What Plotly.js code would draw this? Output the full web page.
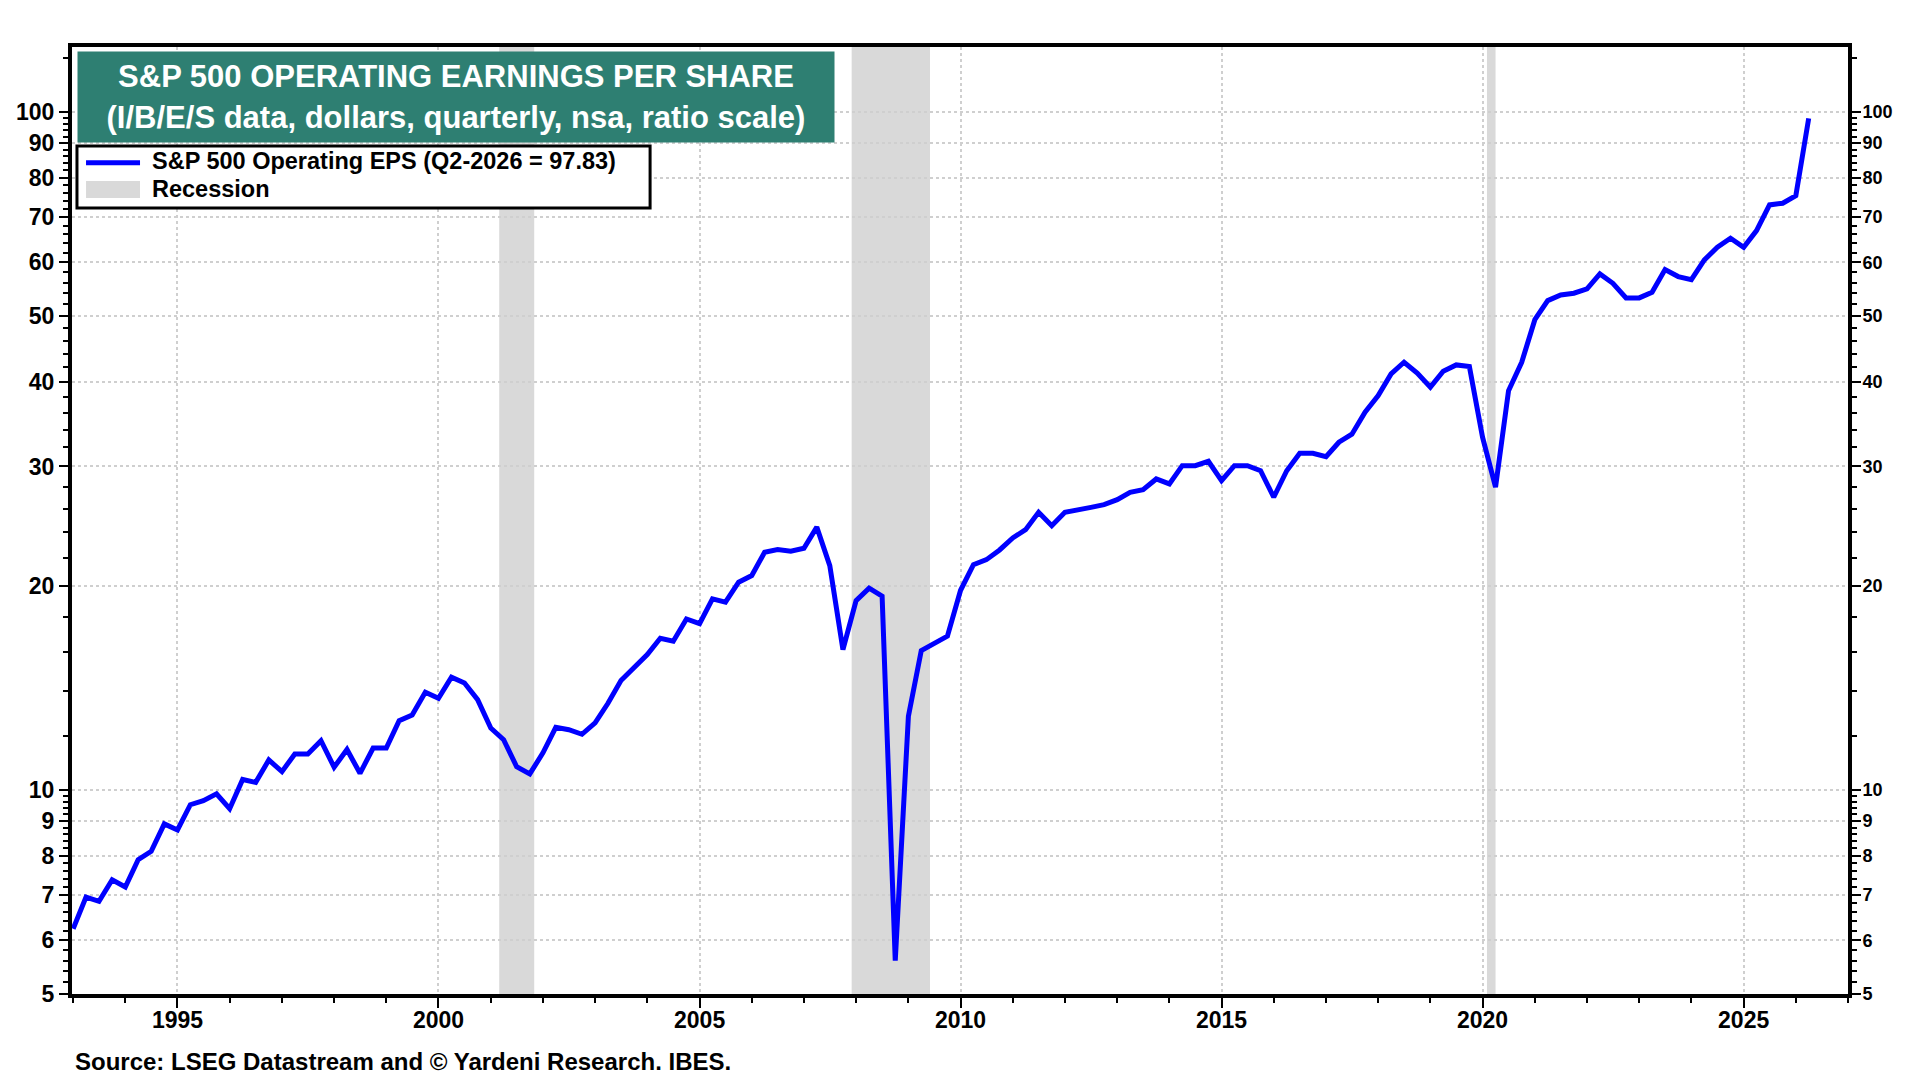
<!DOCTYPE html>
<html>
<head>
<meta charset="utf-8">
<script src="https://cdn.plot.ly/plotly-3.0.1.min.js"></script>
<style>
  html, body { margin: 0; padding: 0; background: #fff; }
  #chart { width: 1920px; height: 1080px; }
</style>
</head>
<body>
<div id="chart"></div>
<script>
// S&P 500 operating EPS, quarterly, Q1-1993 .. Q2-2026
const startYear = 1993;
const eps = [
    6.24, 6.95, 6.85, 7.37,      // 1993
    7.19, 7.89, 8.12, 8.91,      // 1994
    8.73, 9.51, 9.64, 9.87,      // 1995
    9.38, 10.36, 10.26, 11.07,   // 1996
    10.64, 11.30, 11.30, 11.82,  // 1997
    10.80, 11.47, 10.58, 11.53,  // 1998
    11.53, 12.65, 12.90, 13.93,  // 1999
    13.65, 14.66, 14.38, 13.59,  // 2000
    12.34, 11.86, 10.82, 10.56,  // 2001
    11.34, 12.37, 12.27, 12.08,  // 2002
    12.56, 13.42, 14.50, 15.17,  // 2003
    15.84, 16.74, 16.57, 17.87,  // 2004
    17.59, 19.13, 18.92, 20.25,  // 2005
    20.71, 22.42, 22.62, 22.49,  // 2006
    22.72, 24.41, 21.42, 16.10,  // 2007
    19.02, 19.84, 19.31, 5.60,   // 2008
    12.84, 16.05, 16.46, 16.86,  // 2009
    19.70, 21.49, 21.86, 22.59,  // 2010
    23.53, 24.20, 25.67, 24.53,  // 2011
    25.67, 25.85, 26.11, 26.35,  // 2012
    26.80, 27.48, 27.72, 28.75,  // 2013
    28.27, 30.08, 30.08, 30.53,  // 2014
    28.58, 30.08, 30.08, 29.57,  // 2015
    27.02, 29.57, 31.37, 31.37,  // 2016
    31.01, 32.57, 33.47, 36.07,  // 2017
    38.16, 41.08, 42.74, 41.21,  // 2018
    39.27, 41.45, 42.35, 42.11,  // 2019
    33.13, 27.96, 38.81, 42.74,  // 2020
    49.39, 52.69, 53.72, 54.03,  // 2021
    54.82, 57.69, 55.89, 53.18,  // 2022
    53.18, 54.22, 58.54, 57.17,  // 2023
    56.58, 60.50, 63.16, 65.12,  // 2024
    63.16, 66.83, 72.92, 73.34,  // 2025
    75.25, 97.83                 // 2026
];

// recessions (NBER peak month -> trough month)
const recessionStart = ['2001-03-01', '2007-12-01', '2020-02-01'];
const recessionEnd = ['2001-11-01', '2009-06-01', '2020-04-01'];

const yTickVals = [5, 6, 7, 8, 9, 10, 20, 30, 40, 50, 60, 70, 80, 90, 100];
const xTickYears = [1995, 2000, 2005, 2010, 2015, 2020, 2025];

const seriesName = 'S&P 500 Operating EPS (Q2-2026 = 97.83)';
const titleText = 'S&P 500 OPERATING EARNINGS PER SHARE<br>(I/B/E/S data, dollars, quarterly, nsa, ratio scale)';
const sourceText = 'Source: LSEG Datastream and © Yardeni Research. IBES.';

const FONT = 'Liberation Sans, Arial, sans-serif';

// quarter -> first day of quarter
const quarterDates = eps.map((_, i) =>
    (startYear + Math.floor(i / 4)) + '-' + String(1 + 3 * (i % 4)).padStart(2, '0') + '-01');

// minor ticks on the ratio scale
const minorY = [];
for (let v = 5.2; v < 10; v += 0.2) minorY.push(+v.toFixed(1));
for (let v = 12; v < 100; v += 2) if (v % 10 !== 0) minorY.push(v);
minorY.push(120);

const yRange = [Math.log10(5), 2.0958];

const yAxisCommon = {
    type: 'log',
    range: yRange,
    tickmode: 'array',
    tickvals: yTickVals,
    ticktext: yTickVals.map(String),
    ticks: 'outside',
    ticklen: 9,
    tickwidth: 2,
    tickcolor: '#000',
    showline: true,
    linecolor: '#000',
    linewidth: 4,
    zeroline: false,
    minor: {tickmode: 'array', tickvals: minorY, ticks: 'outside', ticklen: 5, tickwidth: 2, tickcolor: '#000', showgrid: false}
};

const traces = [
    {
        x: quarterDates,
        y: eps,
        type: 'scatter',
        mode: 'lines',
        name: seriesName,
        line: {color: '#0000ff', width: 5},
        hoverinfo: 'x+y'
    },
    {   // carries the right-hand axis
        x: quarterDates,
        y: eps,
        type: 'scatter',
        mode: 'lines',
        yaxis: 'y2',
        opacity: 0,
        hoverinfo: 'skip',
        showlegend: false
    }
];

const shapes = recessionStart.map((s, i) => ({
    type: 'rect', xref: 'x', yref: 'paper',
    x0: s, x1: recessionEnd[i], y0: 0, y1: 1,
    fillcolor: '#d9d9d9', line: {width: 0}, layer: 'below'
}));

// hand drawn legend box
shapes.push(
    {type: 'rect', xref: 'paper', yref: 'paper', x0: 0.0028, x1: 0.3255, y0: 0.830, y1: 0.8955,
     fillcolor: '#fff', line: {color: '#000', width: 3}},
    {type: 'line', xref: 'paper', yref: 'paper', x0: 0.0079, x1: 0.0383, y0: 0.8778, y1: 0.8778,
     line: {color: '#0000ff', width: 5}},
    {type: 'rect', xref: 'paper', yref: 'paper', x0: 0.0079, x1: 0.0383, y0: 0.8405, y1: 0.8585,
     fillcolor: '#d9d9d9', line: {width: 0}}
);

const annotations = [
    {
        text: titleText, xref: 'paper', yref: 'paper', x: 0.0028, y: 0.9958,
        xanchor: 'left', yanchor: 'top', width: 756, height: 90, align: 'center', valign: 'middle',
        bgcolor: '#2e7f72', borderpad: 0, showarrow: false,
        font: {family: FONT, size: 31, color: '#fff', weight: 'bold'}
    },
    {
        text: seriesName, xref: 'paper', yref: 'paper', x: 0.0439, y: 0.8796,
        xanchor: 'left', yanchor: 'middle', showarrow: false,
        font: {family: FONT, size: 23.5, color: '#000', weight: 'bold'}
    },
    {
        text: 'Recession', xref: 'paper', yref: 'paper', x: 0.0439, y: 0.850,
        xanchor: 'left', yanchor: 'middle', showarrow: false,
        font: {family: FONT, size: 23.5, color: '#000', weight: 'bold'}
    },
    {
        text: sourceText, xref: 'paper', yref: 'paper', x: 0.0003, y: -0.0708,
        xanchor: 'left', yanchor: 'middle', showarrow: false,
        font: {family: FONT, size: 24, color: '#000', weight: 'bold'}
    }
];

const layout = {
    width: 1920,
    height: 1080,
    margin: {l: 72, r: 72, t: 47, b: 86},
    paper_bgcolor: '#fff',
    plot_bgcolor: '#fff',
    showlegend: false,
    font: {family: FONT, color: '#000'},
    xaxis: {
        type: 'date',
        range: ['1992-12-24', '2027-01-01'],
        tickmode: 'array',
        tickvals: xTickYears.map(y => y + '-01-01'),
        ticktext: xTickYears.map(String),
        tickfont: {family: FONT, size: 23, weight: 'bold'},
        ticklabelstandoff: -8,
        ticks: 'outside',
        ticklen: 10,
        tickwidth: 2,
        tickcolor: '#000',
        showline: true,
        mirror: true,
        linecolor: '#000',
        linewidth: 4,
        showgrid: true,
        gridcolor: '#cfcfcf',
        gridwidth: 2,
        griddash: 'dot',
        zeroline: false,
        minor: {dtick: 'M12', tick0: '1993-01-01', ticks: 'outside', ticklen: 5, tickwidth: 2, tickcolor: '#000', showgrid: false}
    },
    yaxis: Object.assign({}, yAxisCommon, {
        side: 'left',
        tickfont: {family: FONT, size: 23, weight: 'bold'},
        showgrid: true,
        gridcolor: '#cfcfcf',
        gridwidth: 2,
        griddash: 'dot'
    }),
    yaxis2: Object.assign({}, yAxisCommon, {
        side: 'right',
        overlaying: 'y',
        tickfont: {family: FONT, size: 18, weight: 'bold'},
        ticklabelstandoff: -2,
        showgrid: false
    }),
    shapes: shapes,
    annotations: annotations
};

Plotly.newPlot('chart', traces, layout, {displayModeBar: false, staticPlot: true});
</script>
</body>
</html>
